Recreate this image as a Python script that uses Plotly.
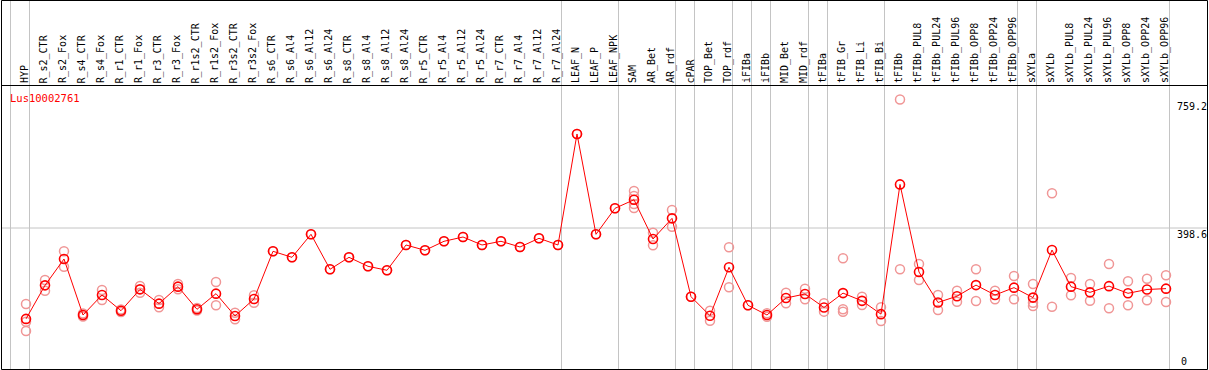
import plotly.graph_objects as go

# ---------------- data ----------------
gene_id = "Lus10002761"

labels = [
    "HYP",
    "R_s2_CTR", "R_s2_Fox", "R_s4_CTR", "R_s4_Fox", "R_r1_CTR", "R_r1_Fox",
    "R_r3_CTR", "R_r3_Fox", "R_r1s2_CTR", "R_r1s2_Fox", "R_r3s2_CTR", "R_r3s2_Fox",
    "R_s6_CTR", "R_s6_Al4", "R_s6_Al12", "R_s6_Al24",
    "R_s8_CTR", "R_s8_Al4", "R_s8_Al12", "R_s8_Al24",
    "R_r5_CTR", "R_r5_Al4", "R_r5_Al12", "R_r5_Al24",
    "R_r7_CTR", "R_r7_Al4", "R_r7_Al12", "R_r7_Al24",
    "LEAF_N", "LEAF_P", "LEAF_NPK",
    "SAM", "AR_Bet", "AR_rdf",
    "cPAR",
    "TOP_Bet", "TOP_rdf",
    "iFIBa",
    "iFIBb",
    "MID_Bet", "MID_rdf",
    "tFIBa",
    "tFIB_Gr", "tFIB_Li", "tFIB_Bi",
    "tFIBb", "tFIBb_PUL8", "tFIBb_PUL24", "tFIBb_PUL96", "tFIBb_OPP8", "tFIBb_OPP24", "tFIBb_OPP96",
    "sXYLa",
    "sXYLb", "sXYLb_PUL8", "sXYLb_PUL24", "sXYLb_PUL96", "sXYLb_OPP8", "sXYLb_OPP24", "sXYLb_OPP96",
]

means = [
    143.5,
    237.6, 311.6, 154.4, 210.5, 166.5, 226.4, 186.3, 234.0, 170.4, 214.3, 151.6, 199.3,
    333.2, 316.3, 380.9, 282.7,
    316.3, 291.1, 279.9, 350.9,
    336.0, 361.3, 373.3, 350.9,
    361.3, 345.3, 369.7, 350.9,
    662.5, 380.9, 453.9,
    477.9, 367.7, 425.7,
    205.8,
    152.4, 288.3,
    181.6,
    154.4,
    202.1, 213.3,
    175.5,
    215.8, 194.1, 156.8,
    521.0, 275.0, 189.5, 207.2, 238.3, 210.5, 231.2,
    203.3,
    336.8, 234.0, 218.0, 235.4, 215.3, 226.0, 228.4,
]

replicates = [
    [185.3, 135.6, 109.5],
    [252.6, 222.6], [333.2, 290.0], [150.0, 158.8], [224.6, 196.5], [163.0, 170.0], [235.8, 217.0],
    [196.5, 176.0], [241.4, 226.5], [167.0, 173.8], [247.0, 181.6], [160.8, 142.3], [209.7, 188.9],
    [333.2], [316.3], [380.9], [282.7],
    [316.3], [291.1], [279.9], [350.9],
    [336.0], [361.3], [373.3], [350.9],
    [361.3], [345.3], [369.7], [350.9],
    [662.5], [380.9], [453.9],
    [502.5, 488.4, 466.0, 454.7], [385.4, 350.0], [449.1, 402.2],
    [205.8],
    [166.5, 138.4], [344.4, 232.1],
    [181.6],
    [159.2, 149.6],
    [217.0, 187.2], [228.2, 198.5],
    [187.2, 163.8],
    [313.5, 170.4, 163.6], [205.8, 182.5], [176.0, 137.5],
    [759.2, 282.7], [297.5, 252.6], [210.5, 168.4], [222.6, 191.7], [282.9, 193.7], [222.6, 198.5], [263.9, 198.5],
    [241.4, 188.9, 179.6],
    [496.0, 177.7], [258.2, 209.7], [241.4, 194.5], [297.5, 173.2], [249.0, 181.6], [256.3, 195.6], [265.8, 190.9],
]

# first column index of each tissue group (plus end)
group_starts = [0, 1, 29, 32, 35, 36, 38, 39, 40, 42, 43, 46, 53, 54, 61]

y_tick_values = [0, 398.6, 759.2]
y_tick_text = ["0", "398.6", "759.2"]
y_max = 797.2

# ---------------- layout geometry ----------------
W, H = 1209, 370
L, R, T, B = 1, 39, 86, 0
PW = W - L - R
PH = H - T - B
X0, X1 = -25 / 19, 1144 / 19

def px_x(px):
    return (px - L) / PW

def px_y(py):
    return (H - B - py) / PH

def idx_paper(v):
    return (v - X0) / (X1 - X0)

RED = "#ff0000"
PINK = "rgb(240,150,150)"
GRID = "#c4c4c4"
FONT = "DejaVu Sans Mono, Liberation Mono, monospace"

xs = list(range(len(labels)))
rep_x, rep_y = [], []
for i, reps in enumerate(replicates):
    for v in reps:
        rep_x.append(i)
        rep_y.append(v)

fig = go.Figure()
fig.add_trace(go.Scatter(
    x=rep_x, y=rep_y, mode="markers",
    marker=dict(symbol="circle-open", size=9, color=PINK, line=dict(width=1.5, color=PINK)),
    hoverinfo="skip", cliponaxis=False,
))
fig.add_trace(go.Scatter(
    x=xs, y=means, mode="lines+markers",
    line=dict(color=RED, width=1),
    marker=dict(symbol="circle-open", size=9, color=RED, line=dict(width=1.6, color=RED)),
    cliponaxis=False,
))

shapes = []
# vertical group separators spanning full height (header included)
for g in group_starts:
    xp = idx_paper(g - 15.5 / 19)
    shapes.append(dict(type="line", xref="paper", yref="paper", x0=xp, x1=xp,
                       y0=px_y(369.5), y1=px_y(0), line=dict(color=GRID, width=1), layer="below"))
# horizontal mid grid line
shapes.append(dict(type="line", xref="paper", yref="y", x0=px_x(1.5), x1=px_x(1208),
                   y0=y_tick_values[1], y1=y_tick_values[1], line=dict(color=GRID, width=1), layer="below"))
# black frame
for (xa, ya, xb, yb) in [(1.5, 0.5, 1207.5, 0.5), (1.5, 85.5, 1207.5, 85.5), (1.5, 369.5, 1207.5, 369.5),
                         (1.5, 0.5, 1.5, 369.5), (1207.5, 0.5, 1207.5, 369.5)]:
    shapes.append(dict(type="line", xref="paper", yref="paper", x0=px_x(xa), x1=px_x(xb),
                       y0=px_y(ya), y1=px_y(yb), line=dict(color="black", width=1)))

annotations = []
for i, lab in enumerate(labels):
    annotations.append(dict(x=i - 1.5 / 19, y=px_y(84.5), xref="x", yref="paper", text=lab,
                            textangle=-90, showarrow=False, xanchor="center", yanchor="bottom",
                            font=dict(family=FONT, size=10, color="black"), borderpad=0))
annotations.append(dict(x=px_x(9), y=px_y(98), xref="paper", yref="paper", text=gene_id,
                        showarrow=False, xanchor="left", yanchor="middle",
                        font=dict(family=FONT, size=10.5, color=RED), borderpad=0))
for v, t in zip(y_tick_values, y_tick_text):
    if v == 0:
        annotations.append(dict(x=px_x(1180), y=px_y(368), xref="paper", yref="paper", text=t,
                                showarrow=False, xanchor="left", yanchor="bottom",
                                font=dict(family=FONT, size=10, color="black"), borderpad=0))
    else:
        annotations.append(dict(x=px_x(1176), y=v, xref="paper", yref="y", text=t,
                                showarrow=False, xanchor="left", yanchor="top",
                                font=dict(family=FONT, size=10, color="black"), borderpad=0))

fig.update_layout(
    width=W, height=H,
    margin=dict(l=L, r=R, t=T, b=B, pad=0),
    paper_bgcolor="white", plot_bgcolor="white",
    showlegend=False,
    xaxis=dict(range=[X0, X1], visible=False, showgrid=False, zeroline=False, fixedrange=True),
    yaxis=dict(range=[0, y_max], visible=False, showgrid=False, zeroline=False, fixedrange=True),
    shapes=shapes, annotations=annotations,
)

fig.write_html("out.html", config={"displayModeBar": False},
               post_script="document.body.style.margin='0';document.body.style.overflow='hidden';")
